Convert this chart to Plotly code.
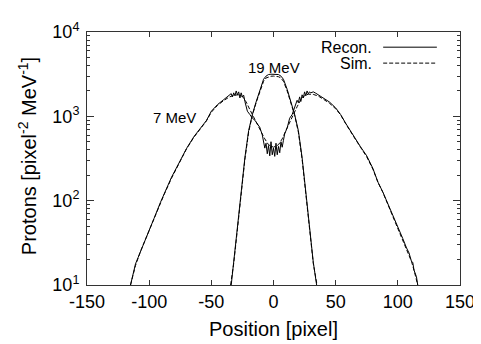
import plotly.graph_objects as go

# ---- data ----
x7_recon = [-115, -113, -111, -109, -107, -104, -101, -96, -91, -88, -82, -76, -70, -64, -58, -54,
            -50, -45, -40, -36, -34, -33, -32, -31, -30, -29, -28, -27, -26, -25, -24, -23, -22,
            -21, -19, -17, -15, -13, -11, -9, -8, -7, -6, -5, -4, -3, -2, -1, 0, 1, 2, 3, 4, 5,
            6, 7, 8, 9, 11, 13, 15, 17, 18, 19, 20, 21, 22, 23, 24, 25, 26, 27, 28, 29, 30, 32,
            34, 36, 40, 45, 50, 54, 58, 62, 66, 70, 75, 80, 84, 88, 91, 96, 101, 104, 107, 109,
            111, 112, 113, 114, 115, 116]
y7_recon = [10, 13.5, 17.8, 21, 25, 31, 42, 62, 95, 120, 190, 280, 415, 575, 760, 890,
            1150, 1380, 1580, 1740, 1860, 1700, 1900, 1750, 2000, 1800, 1950, 1650, 1900, 1700,
            1780, 1500, 1250, 1150, 1050, 950, 900, 820, 740, 600, 520, 420, 480, 360, 450, 340,
            500, 350, 420, 335, 480, 350, 440, 370, 500, 430, 520, 620, 730, 950, 1050, 1250,
            1400, 1550, 1450, 1700, 1500, 1800, 1650, 1950, 1750, 2000, 1850, 1950, 1900, 1950,
            1880, 1800, 1620, 1480, 1260, 1050, 830, 660, 540, 435, 340, 240, 166, 126, 100, 66,
            45, 35.5, 27.5, 24, 19, 18.6, 15, 14, 12.5, 10]

x7_sim = [-115, -111, -107, -101, -96, -91, -88, -82, -76, -70, -64, -58, -54, -50, -45, -40,
          -36, -32, -28, -25, -22, -19, -16, -13, -10, -7, -4, 0, 4, 7, 10, 13, 16, 19, 22, 25,
          28, 32, 36, 40, 45, 50, 54, 58, 62, 66, 70, 75, 80, 84, 88, 91, 96, 101, 104, 107,
          111, 113, 116]
y7_sim = [10, 17, 25, 41, 62, 94, 118, 185, 275, 410, 565, 750, 880, 1120, 1350, 1540,
          1680, 1780, 1800, 1720, 1480, 1200, 980, 830, 680, 540, 460, 430, 460, 540, 680, 860,
          1050, 1300, 1580, 1760, 1830, 1820, 1740, 1600, 1430, 1230, 1040, 820, 650, 530, 430,
          330, 235, 165, 125, 98, 65, 44, 35, 27, 19, 15, 10]

x19_recon = [-34, -32, -29, -26, -23, -20, -17, -14, -11, -8, -6, -4, -2, 0, 2, 4, 6, 8, 11,
             14, 17, 20, 23, 26, 29, 32, 34.7]
y19_recon = [10, 18.6, 48, 126, 324, 676, 1050, 1480, 2090, 2750, 3000, 3130, 3160, 3170, 3160,
             3130, 3000, 2750, 2090, 1480, 1050, 676, 324, 126, 48, 18.6, 10]

x19_sim = [-34.5, -32, -29, -26, -23, -20, -17, -14, -11, -8, -6, -4, -2, 0, 2, 4, 6, 8, 11,
           14, 17, 20, 23, 26, 29, 32, 35]
y19_sim = [10, 18, 46, 120, 310, 650, 1030, 1450, 2000, 2600, 2850, 2950, 2990, 3000, 2990,
           2950, 2850, 2600, 2000, 1450, 1030, 650, 310, 120, 46, 18, 10]

y_tickvals = [10, 100, 1000, 10000]
y_ticktext = ["10<sup>1</sup>", "10<sup>2</sup>", "10<sup>3</sup>", "10<sup>4</sup>"]
x_tickvals = [-150, -100, -50, 0, 50, 100, 150]
x_ticktext = ["-150", "-100", "-50", "0", "50", "100", "150"]

FONT = "Liberation Sans, Arial, Helvetica, sans-serif"
AX = "#333333"

fig = go.Figure()
solid = dict(color="black", width=1)
dashed = dict(color="black", width=1, dash="4px,2px")
fig.add_trace(go.Scatter(x=x7_recon, y=y7_recon, mode="lines", line=solid, showlegend=False))
fig.add_trace(go.Scatter(x=x7_sim, y=y7_sim, mode="lines", line=dashed, showlegend=False))
fig.add_trace(go.Scatter(x=x19_recon, y=y19_recon, mode="lines", line=solid, showlegend=False))
fig.add_trace(go.Scatter(x=x19_sim, y=y19_sim, mode="lines", line=dashed, showlegend=False))

# gnuplot-style key: text left, sample right
key_y = [0.940, 0.877]
key_txt = ["Recon.", "Sim."]
key_dash = ["solid", "4px,2px"]
for ky, kt, kd in zip(key_y, key_txt, key_dash):
    fig.add_annotation(x=0.767, y=ky, xref="paper", yref="paper", text=kt, showarrow=False,
                       xanchor="right", yanchor="middle", height=15, borderpad=0,
                       font=dict(size=16, color="black", family=FONT))
    fig.add_shape(type="line", xref="paper", yref="paper", x0=0.794, x1=0.938, y0=ky, y1=ky,
                  line=dict(color="black", width=1, dash=kd))

fig.add_annotation(x=0, y=3.585, text="19 MeV", showarrow=False, xanchor="center", yanchor="middle",
                   font=dict(size=15, color="black", family=FONT))
fig.add_annotation(x=-80, y=2.99, text="7 MeV", showarrow=False, xanchor="center", yanchor="middle",
                   font=dict(size=15, color="black", family=FONT))

# y-axis title placed as rotated text, like the reference
fig.add_annotation(x=-0.161, y=0.509, xref="paper", yref="paper",
                   text="Protons [pixel<sup>-2</sup> MeV<sup>-1</sup>]", textangle=-90,
                   showarrow=False, xanchor="center", yanchor="middle",
                   font=dict(size=20, color="black", family=FONT))

# page body adds an 8px offset; margins compensate so the axes land where the reference has them
fig.update_layout(
    width=481, height=344,
    margin=dict(l=79, r=29, t=12, b=67),
    paper_bgcolor="white", plot_bgcolor="white",
    font=dict(family=FONT, size=18, color="black"),
    xaxis=dict(range=[-150, 150], tickvals=x_tickvals, ticktext=x_ticktext, ticks="inside",
               ticklen=5, tickcolor=AX,
               showline=True, linecolor=AX, linewidth=1, mirror="allticks", showgrid=False,
               zeroline=False, tickfont=dict(size=18), ticklabeloverflow="allow",
               title=dict(text="Position [pixel]", font=dict(size=20), standoff=11)),
    yaxis=dict(type="log", range=[1, 4], tickvals=y_tickvals, ticktext=y_ticktext,
               ticks="inside", ticklen=7, tickcolor=AX, ticklabeloverflow="allow",
               ticklabelstandoff=3,
               minor=dict(ticks="inside", ticklen=3, tickcolor=AX, dtick="D1", showgrid=False),
               showline=True, linecolor=AX, linewidth=1, mirror="allticks", showgrid=False,
               zeroline=False, tickfont=dict(size=18)),
)

fig.write_html("out.html")
